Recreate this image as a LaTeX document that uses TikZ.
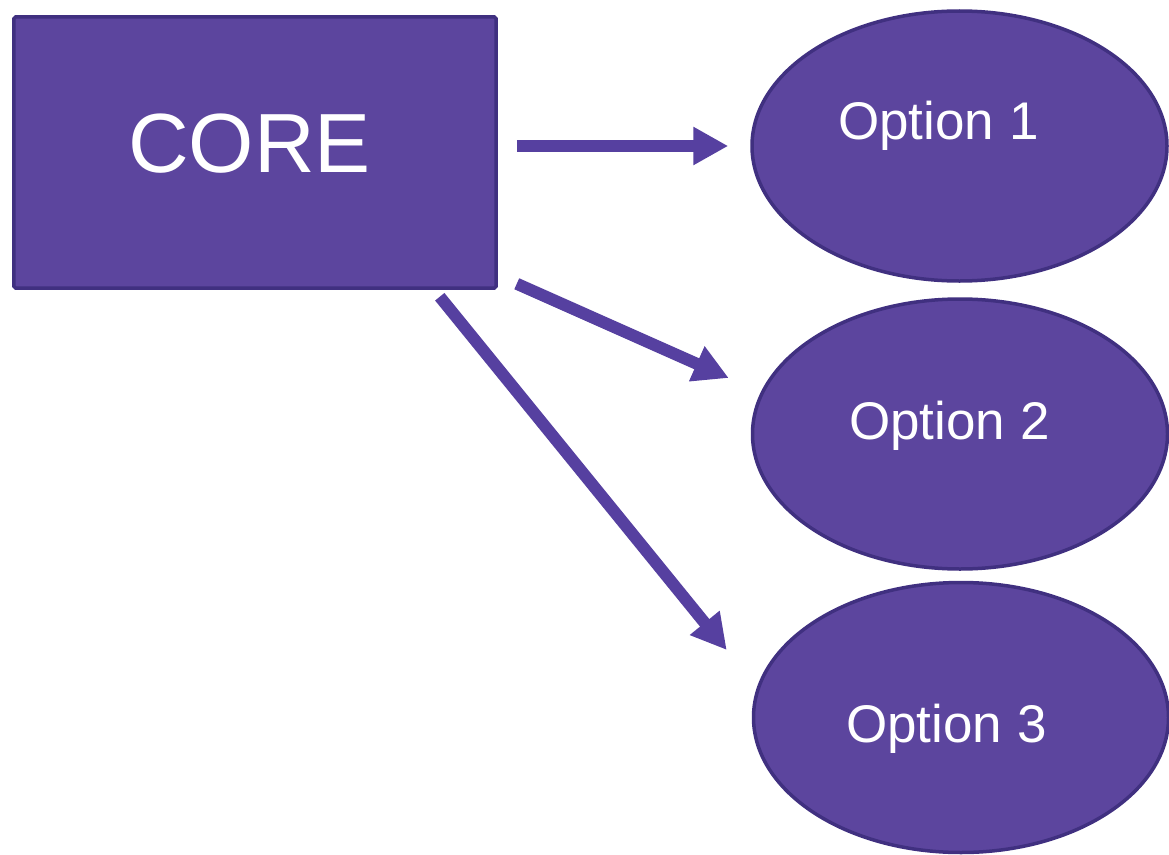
\documentclass[tikz,border=0pt]{standalone}
\usepackage{fontspec}
\setmainfont{Liberation Sans}
\usepackage{tikz}
\usetikzlibrary{arrows.meta,shapes.geometric,positioning}

\definecolor{corefill}{RGB}{92,69,158}
\definecolor{coreline}{RGB}{64,48,128}
\definecolor{arrowcol}{RGB}{86,64,160}

\begin{document}
\begin{tikzpicture}[x=1bp,y=-1bp,
    corebox/.style={draw=coreline, fill=corefill, line width=3.5bp, rounded corners=1.5bp,
        minimum width=482bp, minimum height=271bp, inner sep=0pt},
    optbox/.style={ellipse, draw=coreline, fill=corefill, line width=3.5bp,
        minimum width=415bp, minimum height=270bp, inner sep=0pt},
    txt/.style={white, inner sep=0pt, anchor=base west},
    arr/.style={arrowcol, line width=12bp, -{Triangle[length=35bp,width=36bp]}}]
    \useasboundingbox (0,0) rectangle (1169,855);
            \node[corebox] (core) at (255,152.5) {};
            \node[txt, font=\fontsize{84bp}{92bp}\selectfont] (coretxt) at (128,172) {CORE};
            \node[optbox] (opt1) at (959.5,146) {};
            \node[optbox] (opt2) at (960,434) {};
            \node[optbox] (opt3) at (961,717.5) {};
            \node[txt, font=\fontsize{53bp}{60bp}\selectfont] (opt1txt) at (838,139) {Option 1};
            \node[txt, font=\fontsize{53bp}{60bp}\selectfont] (opt2txt) at (849,439) {Option 2};
            \node[txt, font=\fontsize{53bp}{60bp}\selectfont] (opt3txt) at (846,742) {Option 3};
            \draw[arr, shorten <=19bp, shorten >=22bp] (core.east |- opt1.west) -- (opt1.west);
            \draw[arr] ([shift={(19,-6)}]core.south east) -- ([shift={(-22,-56)}]opt2.west);
            \draw[arr] ([shift={(-58,7)}]core.south east) -- ([shift={(-25,-67.5)}]opt3.west);
        \end{tikzpicture}
\end{document}
